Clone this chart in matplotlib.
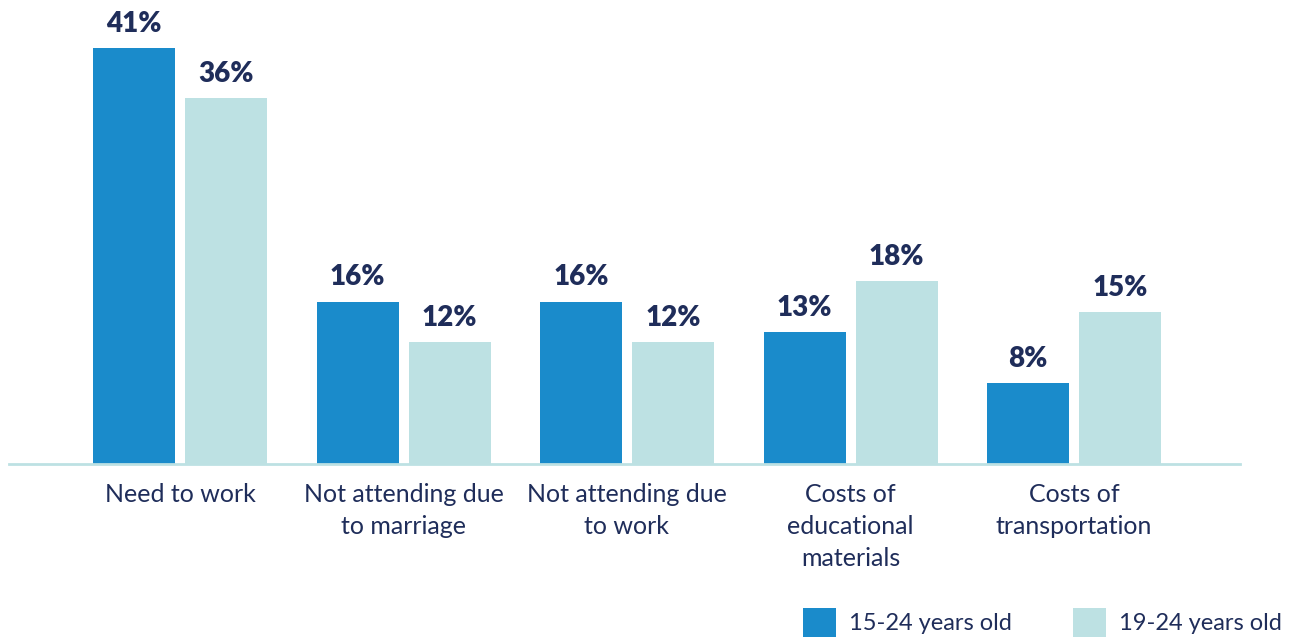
import matplotlib
matplotlib.use('Agg')
import matplotlib.pyplot as plt
import numpy as np

plt.rcParams['font.family'] = ['Lato', 'DejaVu Sans']

# data
categories = ['Need to work', 'Not attending due\nto marriage', 'Not attending due\nto work',
              'Costs of\neducational\nmaterials', 'Costs of\ntransportation']
age_15_24 = [41, 16, 16, 13, 8]
age_19_24 = [36, 12, 12, 18, 15]
series_names = ['15-24 years old', '19-24 years old']

blue = '#1A8BCB'
teal = '#BDE1E3'
navy = '#1F2D5A'

W, H = 1298, 639
fig = plt.figure(figsize=(W / 100, H / 100), dpi=100)
base = 464
ax = fig.add_axes([9 / W, 1 - base / H, (1240 - 9) / W, (base - 7) / H])

x = np.arange(len(categories))
step = 223.5
x0 = 180
bw = 82 / step
off = 46 / step

b1 = ax.bar(x - off, age_15_24, bw, color=blue, label=series_names[0])
b2 = ax.bar(x + off, age_19_24, bw, color=teal, label=series_names[1])

for bars, vals in ((b1, age_15_24), (b2, age_19_24)):
    for r, v in zip(bars, vals):
        ax.annotate('%d%%' % v, (r.get_x() + r.get_width() / 2, v), xytext=(0, 8),
                    textcoords='offset points', ha='center', va='bottom',
                    fontsize=20, fontweight='heavy', color=navy)

ax.set_xlim((9 - x0) / step, (1240 - x0) / step)
ax.set_ylim(0, 45)
for s in ['top', 'right', 'left']:
    ax.spines[s].set_visible(False)
ax.spines['bottom'].set_color(teal)
ax.spines['bottom'].set_linewidth(2)
ax.set_yticks([])
ax.set_xticks(x)
ax.set_xticklabels(categories, fontsize=18, color=navy, linespacing=1.45, va='top')
ax.tick_params(axis='x', length=0, pad=14)

fig.legend(loc='lower right', bbox_to_anchor=(1303 / W, -0.03), ncol=2, frameon=False,
           fontsize=17, labelcolor=navy, handlelength=1.4, handleheight=1.5,
           columnspacing=2.6, handletextpad=0.55)

fig.savefig('out.png', dpi=100)
